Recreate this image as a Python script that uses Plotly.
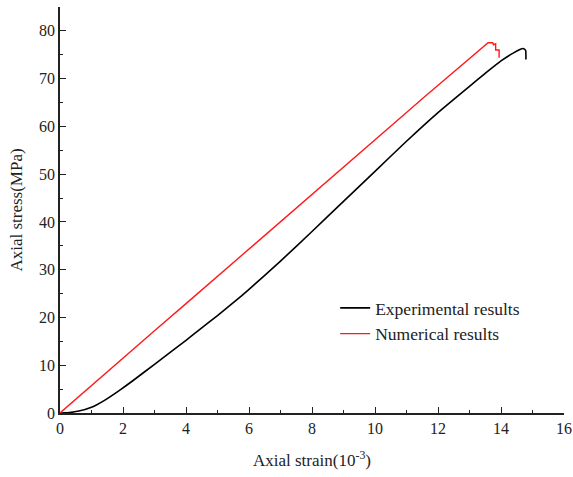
import plotly.graph_objects as go

# Experimental results
exp_strain = [0, 0.3, 0.6, 1.0, 1.4, 1.9, 2.3, 3.0, 4.0, 4.44, 5.0, 5.56, 6.0, 7.0, 8.0, 9.0,
              10.0, 11.0, 12.0, 13.0, 13.5, 14.0, 14.4, 14.6, 14.7, 14.78, 14.79]
exp_stress = [0, 0.1, 0.4, 1.2, 2.6, 4.8, 6.7, 10.2, 15.2, 17.5, 20.4, 23.4, 25.9, 31.8, 38.0, 44.3,
              50.6, 56.9, 62.9, 68.4, 71.1, 73.7, 75.4, 76.1, 76.3, 75.9, 74.0]

# Numerical results
num_strain = [0, 1, 2, 3, 4, 5, 6, 7, 8, 9, 10, 11, 11.5, 12, 12.5, 13, 13.3, 13.5, 13.59,
              13.74, 13.76, 13.83, 13.83, 13.94, 13.94]
num_stress = [0, 5.8, 11.5, 17.2, 22.9, 28.6, 34.3, 40.0, 45.7, 51.3, 57.1, 62.9, 65.8, 68.6, 71.4, 74.1, 75.8, 76.9, 77.5,
              77.5, 77.1, 77.3, 76.0, 76.0, 74.4]

x_ticks = [0, 2, 4, 6, 8, 10, 12, 14, 16]
y_ticks = [0, 10, 20, 30, 40, 50, 60, 70, 80]

font_family = "Liberation Serif"
txt_color = "#222222"

fig = go.Figure()
fig.add_trace(go.Scatter(x=exp_strain, y=exp_stress, mode="lines", name="Experimental results",
                         line=dict(color="black", width=1.6, shape="spline", smoothing=0.5)))
fig.add_trace(go.Scatter(x=num_strain, y=num_stress, mode="lines", name="Numerical results",
                         line=dict(color="#ff1a1a", width=1.4)))

axis_common = dict(
    showline=True, linecolor="#222222", linewidth=1.5, mirror=False,
    showgrid=False, zeroline=False, automargin=False,
    ticks="inside", ticklen=6, tickwidth=1.3, tickcolor="#222222",
    tickfont=dict(family=font_family, size=16, color=txt_color),
)

fig.update_xaxes(range=[0, 16], tickvals=x_ticks, ticktext=[str(v) for v in x_ticks],
                 ticklabeloverflow="allow",
                 minor=dict(ticks="inside", ticklen=3, tickwidth=1.2, tickcolor="#222222", dtick=1, tick0=0),
                 title=dict(text="Axial strain(10<sup>-3</sup>)", standoff=18,
                            font=dict(family=font_family, size=17, color=txt_color)),
                 **axis_common)
fig.update_yaxes(range=[0, 85], tickvals=y_ticks, ticktext=[str(v) for v in y_ticks],
                 minor=dict(ticks="inside", ticklen=3, tickwidth=1.2, tickcolor="#222222", dtick=5, tick0=0),
                 title=dict(text="Axial stress(MPa)", standoff=12,
                            font=dict(family=font_family, size=17, color=txt_color)),
                 **axis_common)

fig.update_layout(
    width=573, height=477,
    margin=dict(l=60, r=9, t=7, b=64),
    paper_bgcolor="white", plot_bgcolor="white",
    showlegend=True,
    legend=dict(x=0.546, y=0.303, xanchor="left", yanchor="top",
                font=dict(family=font_family, size=17.5, color=txt_color),
                bgcolor="rgba(0,0,0,0)", tracegroupgap=0),
)

fig.write_html("out.html")
